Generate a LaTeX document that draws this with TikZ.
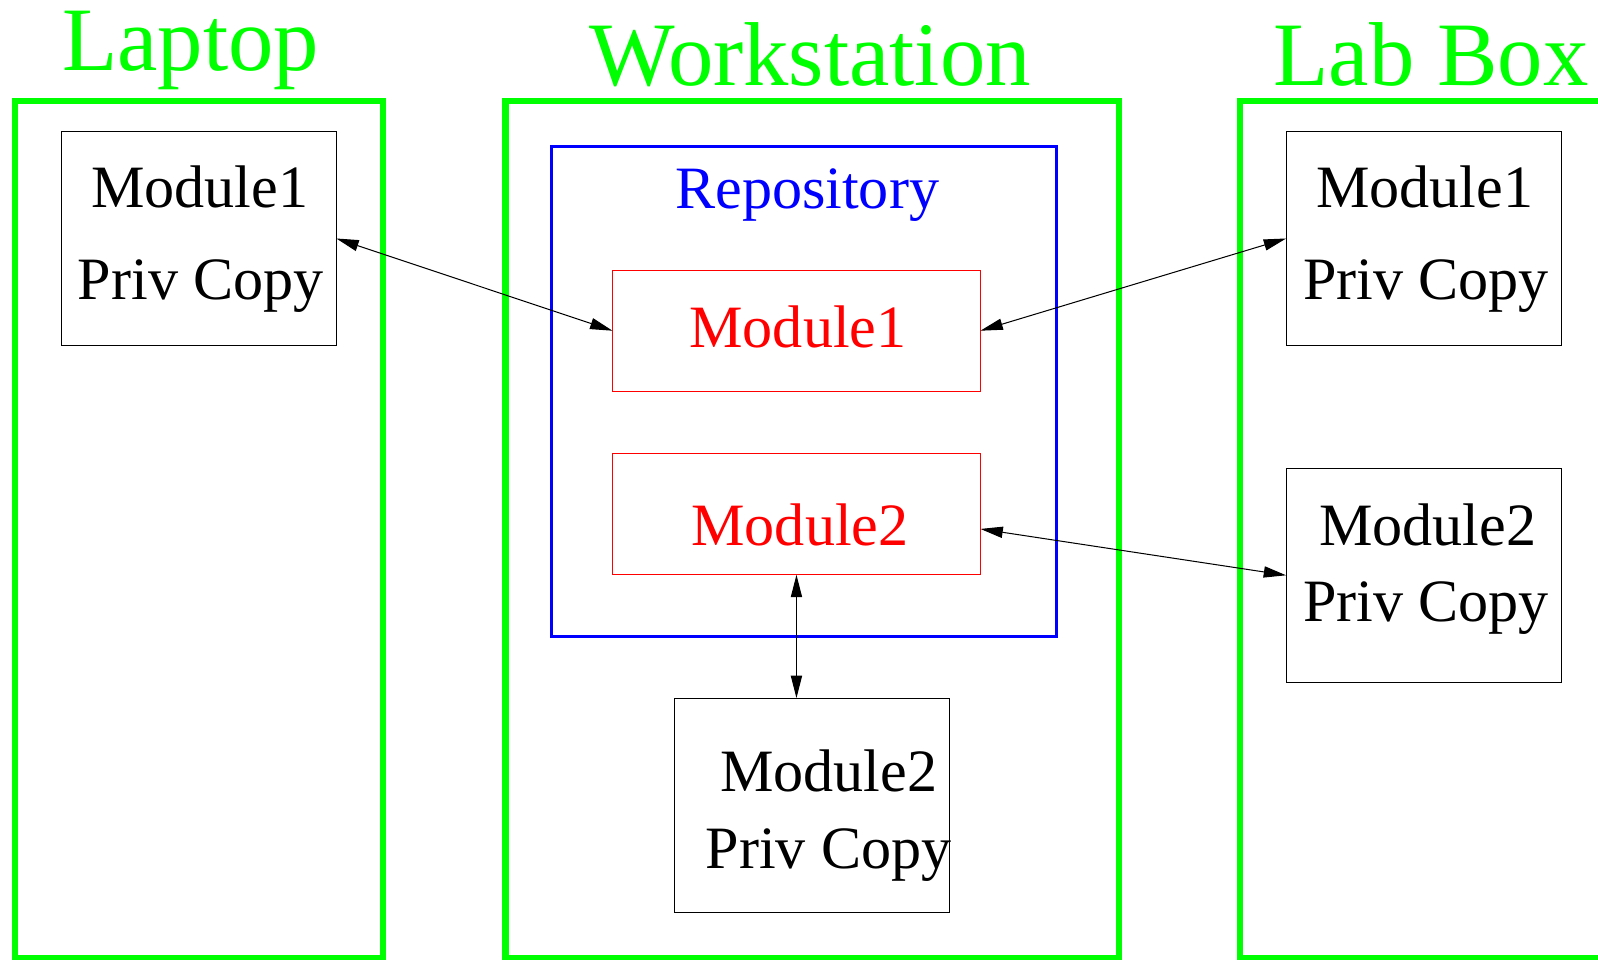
\documentclass[tikz,border=0pt]{standalone}
\usepackage{fontspec}
\setmainfont{Liberation Serif}
\usetikzlibrary{arrows.meta}
\definecolor{fgreen}{RGB}{0,255,0}
\definecolor{fblue}{RGB}{0,0,255}
\definecolor{fred}{RGB}{255,0,0}
\begin{document}
\begin{tikzpicture}[x=0.5pt,y=-0.5pt,
  grp/.style={draw=fgreen,line width=3pt},
  title/.style={text=fgreen,font=\fontsize{44.5}{50}\selectfont,anchor=base,inner sep=0},
  lbl/.style={font=\fontsize{29.5}{34}\selectfont,anchor=base,inner sep=0},
  pbox/.style={draw=black,line width=0.5pt,rectangle,inner sep=0,outer sep=0,minimum width=135pt,minimum height=105pt},
  rbox/.style={draw=fred,line width=0.5pt,rectangle,inner sep=0,outer sep=0,minimum width=180.5pt,minimum height=59.5pt},
  link/.style={line width=0.5pt,{Triangle[length=11pt,width=5.5pt]}-{Triangle[length=11pt,width=5.5pt]}}]
\useasboundingbox (0,0) rectangle (1568,941);
% group frames
\draw[grp] (15,99.5) rectangle (375.5,940);
\draw[grp] (496,99.5) rectangle (1098,940);
\draw[grp] (1217,99.5) rectangle (1578,940);
\node[title] (tlap) at (187,69) {Laptop};
\node[title] (tws) at (795,84) {Workstation};
\node[title] (tlab) at (1404,84) {Lab Box};
% repository
\draw[draw=fblue,line width=1.5pt] (541,144) rectangle (1037,625);
\node[lbl,text=fblue] (trep) at (792,205) {Repository};
\node[rbox] (rm1) at (781.5,324.5) {};
\node[rbox] (rm2) at (781.5,504.5) {};
\node[lbl,text=fred] (trm1) at (783,341) {Module1};
\node[lbl,text=fred] (trm2) at (785,535) {Module2};
% private copies
\node[pbox] (lm1) at (195,234) {};
\node[lbl] (lm1a) at (196,204) {Module1};
\node[lbl] (lm1b) at (197,294) {Priv Copy};
\node[pbox] (bm1) at (1397,234) {};
\node[lbl] (bm1a) at (1398,204) {Module1};
\node[lbl] (bm1b) at (1399,294) {Priv Copy};
\node[pbox] (bm2) at (1397,564.5) {};
\node[lbl] (bm2a) at (1401,535) {Module2};
\node[lbl] (bm2b) at (1399,610) {Priv Copy};
\node[pbox] (wm2) at (796.5,790) {};
\node[lbl] (wm2a) at (813,777) {Module2};
\node[lbl] (wm2b) at (813,852) {Priv Copy};
% connectors
\draw[link] (lm1.east) -- (rm1.west);
\draw[link] (rm1.east) -- (bm1.west);
\draw[link] ([yshift=-7.25pt]rm2.east) -- (bm2.west);
\draw[link] (rm2.south) -- (rm2.south |- wm2.north);
\end{tikzpicture}
\end{document}
